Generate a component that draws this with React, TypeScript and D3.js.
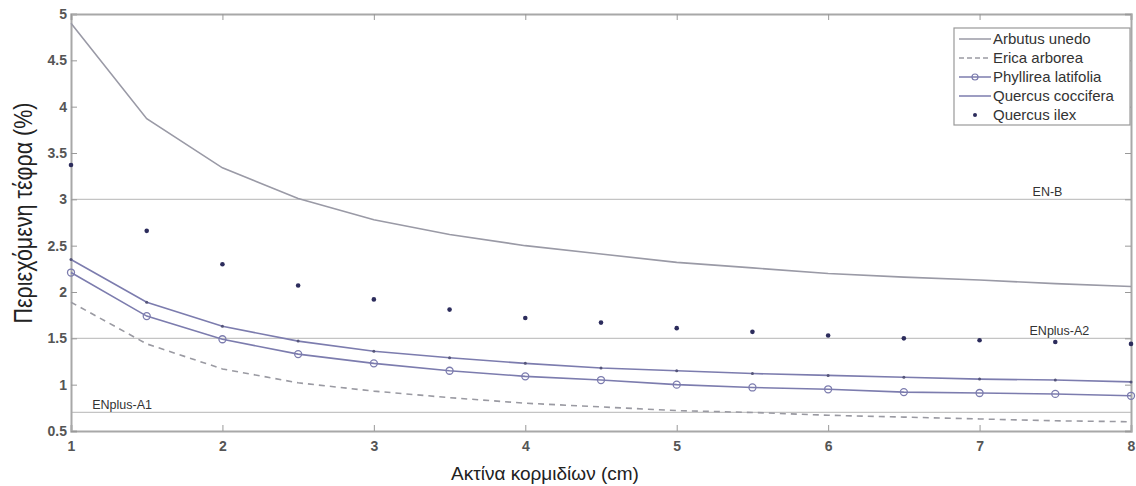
import React, { useRef, useEffect } from 'react';
import * as d3 from 'd3';

// radius of branches (cm)
const radius = [1, 1.5, 2, 2.5, 3, 3.5, 4, 4.5, 5, 5.5, 6, 6.5, 7, 7.5, 8];

const arbutusUnedo = [4.9, 3.87, 3.34, 3.01, 2.78, 2.62, 2.5, 2.41, 2.32, 2.26, 2.2, 2.16, 2.13, 2.09, 2.06];
const ericaArborea = [1.89, 1.44, 1.17, 1.02, 0.93, 0.86, 0.8, 0.76, 0.72, 0.7, 0.67, 0.65, 0.63, 0.61, 0.6];
const phyllireaLatifolia = [2.21, 1.74, 1.49, 1.33, 1.23, 1.15, 1.09, 1.05, 1.0, 0.97, 0.95, 0.92, 0.91, 0.9, 0.88];
const quercusCoccifera = [2.35, 1.89, 1.63, 1.47, 1.36, 1.29, 1.23, 1.18, 1.15, 1.12, 1.1, 1.08, 1.06, 1.05, 1.03];
const quercusIlex = [3.37, 2.66, 2.3, 2.07, 1.92, 1.81, 1.72, 1.67, 1.61, 1.57, 1.53, 1.5, 1.48, 1.46, 1.44];

const limits = [
  { name: 'EN-B', value: 3, at: 7.35 },
  { name: 'ENplus-A2', value: 1.5, at: 7.33 },
  { name: 'ENplus-A1', value: 0.7, at: 1.14 },
];

const xTicks = [1, 2, 3, 4, 5, 6, 7, 8];
const yTicks = [0.5, 1, 1.5, 2, 2.5, 3, 3.5, 4, 4.5, 5];

const series = [
  { name: 'Arbutus unedo', values: arbutusUnedo, color: '#9a9aa6', dash: null, marker: 'none' },
  { name: 'Erica arborea', values: ericaArborea, color: '#9a9aa2', dash: '6,5', marker: 'none' },
  { name: 'Phyllirea latifolia', values: phyllireaLatifolia, color: '#7c7cae', dash: null, marker: 'circle' },
  { name: 'Quercus coccifera', values: quercusCoccifera, color: '#7c7cae', dash: null, marker: 'point' },
  { name: 'Quercus ilex', values: quercusIlex, color: '#2c2c5c', dash: null, marker: 'dot' },
];

const font = 'Liberation Sans, Arial, sans-serif';

const App = () => {
  const svgRef = useRef(null);

  useEffect(() => {
    const W = 1136, H = 486;
    const margin = { top: 14, right: 5, bottom: 55, left: 71 };
    const width = W - margin.left - margin.right;
    const height = H - margin.top - margin.bottom;

    const root = d3.select(svgRef.current);
    root.selectAll('*').remove();
    root.attr('width', W).attr('height', H);
    root.append('rect').attr('width', W).attr('height', H).attr('fill', 'white');

    const svg = root.append('g').attr('transform', `translate(${margin.left},${margin.top})`);

    const x = d3.scaleLinear().domain([1, 8]).range([0, width]);
    const y = d3.scaleLinear().domain([0.5, 5]).range([height, 0]);

    // limit lines
    limits.forEach(l => {
      svg.append('line')
        .attr('x1', 0).attr('x2', width)
        .attr('y1', y(l.value)).attr('y2', y(l.value))
        .attr('stroke', '#c4c4c4').attr('stroke-width', 1.2);
      svg.append('text')
        .attr('x', x(l.at)).attr('y', y(l.value) - 3)
        .text(l.name)
        .style('font-family', font).style('font-size', '12.5px').attr('fill', '#333');
    });

    // axes frame
    const axisColor = '#a8a8a8';
    const xAxis = svg.append('g').attr('transform', `translate(0,${height})`)
      .call(d3.axisBottom(x).tickValues(xTicks).tickSize(-6).tickPadding(10).tickFormat(d3.format('d')));
    const yAxis = svg.append('g')
      .call(d3.axisLeft(y).tickValues(yTicks).tickSize(-6).tickPadding(4).tickFormat(d => String(d)));
    svg.append('g')
      .call(d3.axisTop(x).tickValues(xTicks).tickSize(-6).tickFormat(() => ''));
    svg.append('g').attr('transform', `translate(${width},0)`)
      .call(d3.axisRight(y).tickValues(yTicks).tickSize(-6).tickFormat(() => ''));
    svg.selectAll('.domain').attr('stroke', axisColor).attr('stroke-width', 2);
    svg.selectAll('.tick line').attr('stroke', '#999');
    [xAxis, yAxis].forEach(a => a.selectAll('text')
      .style('font-family', font).style('font-size', '14px').style('font-weight', 'bold').attr('fill', '#555'));

    const line = d3.line<number>().x((_, i) => x(radius[i])).y(d => y(d));

    series.forEach(s => {
      if (s.marker !== 'dot') {
        svg.append('path').datum(s.values)
          .attr('fill', 'none').attr('stroke', s.color).attr('stroke-width', 1.6)
          .attr('stroke-dasharray', s.dash).attr('d', line);
      }
      if (s.marker === 'circle') {
        svg.selectAll(null).data(s.values).enter().append('circle')
          .attr('cx', (_, i) => x(radius[i])).attr('cy', d => y(d)).attr('r', 3.5)
          .attr('fill', 'none').attr('stroke', s.color).attr('stroke-width', 1.3);
      } else if (s.marker === 'point') {
        svg.selectAll(null).data(s.values).enter().append('circle')
          .attr('cx', (_, i) => x(radius[i])).attr('cy', d => y(d)).attr('r', 1.5)
          .attr('fill', '#55557a');
      } else if (s.marker === 'dot') {
        svg.selectAll(null).data(s.values).enter().append('circle')
          .attr('cx', (_, i) => x(radius[i])).attr('cy', d => y(d)).attr('r', 2.3)
          .attr('fill', s.color);
      }
    });

    // legend
    const lg = root.append('g').attr('transform', 'translate(954,28)');
    lg.append('rect').attr('width', 176).attr('height', 97)
      .attr('fill', 'white').attr('stroke', '#999').attr('stroke-width', 1.2);
    series.forEach((s, i) => {
      const cy = 11 + i * 19;
      if (s.marker !== 'dot') {
        lg.append('line').attr('x1', 5).attr('x2', 37).attr('y1', cy).attr('y2', cy)
          .attr('stroke', s.color).attr('stroke-width', 1.5).attr('stroke-dasharray', s.dash ? '5,3' : null);
      }
      if (s.marker === 'circle') {
        lg.append('circle').attr('cx', 21).attr('cy', cy).attr('r', 3)
          .attr('fill', 'none').attr('stroke', s.color).attr('stroke-width', 1.2);
      } else if (s.marker === 'dot') {
        lg.append('circle').attr('cx', 21).attr('cy', cy).attr('r', 2).attr('fill', s.color);
      }
      lg.append('text').attr('x', 39).attr('y', cy + 5).text(s.name)
        .style('font-family', font).style('font-size', '15px').attr('fill', '#333');
    });

    // axis titles
    root.append('text')
      .attr('x', 545).attr('y', 480)
      .attr('text-anchor', 'middle').text('Ακτίνα κορμιδίων (cm)')
      .style('font-family', font).style('font-size', '19px').attr('fill', '#222');
    root.append('text')
      .attr('transform', 'translate(32,213) rotate(-90) scale(0.86,1)')
      .attr('text-anchor', 'middle').text('Περιεχόμενη τέφρα (%)')
      .style('font-family', font).style('font-size', '25px').attr('fill', '#222');
  }, []);

  return (
    <div style={{ position: 'absolute', left: 0, top: 0 }}>
      <svg ref={svgRef} />
    </div>
  );
};

export default App;
